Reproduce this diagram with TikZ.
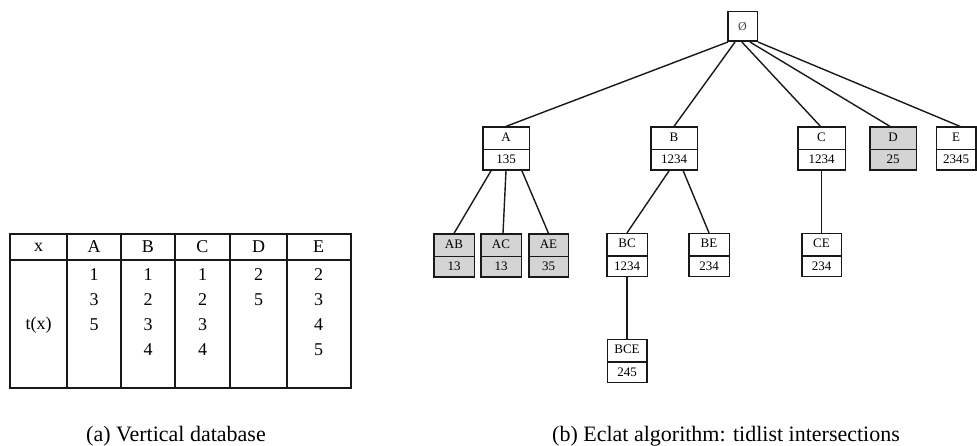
\documentclass[tikz,border=0pt]{standalone}
\usepackage{fontspec}
\setmainfont{Liberation Serif}
\usetikzlibrary{shapes.multipart,calc}

\begin{document}
\begin{tikzpicture}[x=1pt,y=-1pt,
  tbl/.style={line width=1.6pt, draw=black!90},
  cell/.style={font=\fontsize{18}{20}\selectfont, inner sep=0pt, anchor=center},
  caption/.style={font=\fontsize{22}{24}\selectfont, inner sep=0pt, anchor=base},
  tid/.style={rectangle split, rectangle split parts=2, draw=black!90,
    line width=1.5pt, fill=white, font=\fontsize{13}{15}\selectfont,
    text height=8.5pt, text depth=2.5pt, inner ysep=5pt, inner xsep=1pt,
    align=center, anchor=center},
  wide/.style={tid, minimum width=46.5pt},
  narrow/.style={tid, minimum width=40.5pt},
  pruned/.style={fill=black!17},
  rootbox/.style={draw=black!90, line width=1.5pt, fill=white,
    minimum width=29.5pt, minimum height=29.5pt, inner sep=0pt,
    font=\fontsize{12}{14}\selectfont\color{black!75}},
  edge/.style={line width=1.4pt, draw=black!90},
]
\useasboundingbox (0,0) rectangle (977,446);

% ---------- vertical database ----------
\draw[tbl] (10,234) rectangle (351,388);
\draw[tbl] (10,260) -- (351,260);
\foreach \cx in {67,121,175,230,287}
  \draw[tbl] (\cx,234) -- (\cx,388);

\node[cell] (hx) at (38.5,247) {x};
\node[cell] (hA) at (94,247) {A};
\node[cell] (hB) at (148,247) {B};
\node[cell] (hC) at (202.5,247) {C};
\node[cell] (hD) at (258.5,247) {D};
\node[cell] (hE) at (318.5,247) {E};
\node[cell] (tx) at (38.5,325) {t(x)};

\node[cell] (a1) at (94,275) {1};
\node[cell] (a2) at (94,300) {3};
\node[cell] (a3) at (94,325) {5};
\node[cell] (b1) at (148,275) {1};
\node[cell] (b2) at (148,300) {2};
\node[cell] (b3) at (148,325) {3};
\node[cell] (b4) at (148,350) {4};
\node[cell] (c1) at (202.5,275) {1};
\node[cell] (c2) at (202.5,300) {2};
\node[cell] (c3) at (202.5,325) {3};
\node[cell] (c4) at (202.5,350) {4};
\node[cell] (d1) at (258.5,275) {2};
\node[cell] (d2) at (258.5,300) {5};
\node[cell] (e1) at (318.5,275) {2};
\node[cell] (e2) at (318.5,300) {3};
\node[cell] (e3) at (318.5,325) {4};
\node[cell] (e4) at (318.5,350) {5};

\node[caption] (capa) at (176,441) {(a) Vertical database};

% ---------- Eclat search tree ----------
\node[rootbox] (root) at (742.5,26.5) {Ø};

\node[wide] (A) at (506,148.5) {A\nodepart{two}135};
\node[wide] (B) at (674,148.5) {B\nodepart{two}1234};
\node[wide, minimum width=47.5pt] (C) at (821.5,148.5) {C\nodepart{two}1234};
\node[wide, pruned] (D) at (893,148.5) {D\nodepart{two}25};
\node[narrow, minimum width=39.5pt] (E) at (956,148.5) {E\nodepart{two}2345};

\node[narrow, pruned] (AB) at (454,255.5) {AB\nodepart{two}13};
\node[narrow, pruned] (AC) at (501,255.5) {AC\nodepart{two}13};
\node[narrow, pruned, minimum width=39.5pt] (AE) at (548.5,255.5) {AE\nodepart{two}35};
\node[narrow] (BC) at (627,255) {BC\nodepart{two}1234};
\node[narrow] (BE) at (709,255) {BE\nodepart{two}234};
\node[narrow, minimum width=39.5pt] (CE) at (821.5,255) {CE\nodepart{two}234};
\node[narrow, minimum width=39.5pt] (BCE) at (627,361) {BCE\nodepart{two}245};

\draw[edge] ($(root.south west)!0.03!(root.south east)$) -- (A.north);
\draw[edge] ($(root.south west)!0.26!(root.south east)$) -- (B.north);
\draw[edge] ($(root.south west)!0.48!(root.south east)$) -- ([xshift=-1pt]C.north);
\draw[edge] ($(root.south west)!0.74!(root.south east)$) -- ([xshift=-3pt]D.north);
\draw[edge] ($(root.south west)!1.0!(root.south east)$) -- ([xshift=4pt]E.north);

\draw[edge] ($(A.south west)!0.19!(A.south east)$) -- (AB.north);
\draw[edge] ($(A.south west)!0.5!(A.south east)$) -- ([xshift=2pt]AC.north);
\draw[edge] ($(A.south west)!0.83!(A.south east)$) -- (AE.north);

\draw[edge] ($(B.south west)!0.4!(B.south east)$) -- (BC.north);
\draw[edge] ($(B.south west)!0.69!(B.south east)$) -- (BE.north);

\draw[edge] (C.south) -- (CE.north);
\draw[edge] (BC.south) -- (BCE.north);

\node[caption] (capb) at (726,441) {(b) Eclat algorithm: tidlist intersections};
\end{tikzpicture}
\end{document}
